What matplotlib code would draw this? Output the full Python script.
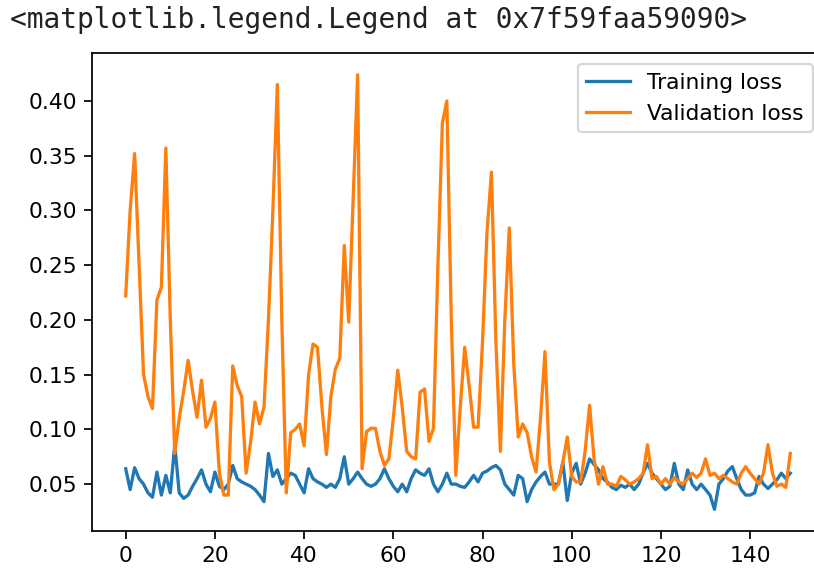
import numpy as np
import matplotlib
matplotlib.use("Agg")
import matplotlib.pyplot as plt

# Loss values per epoch
train_loss = [
    0.064, 0.045, 0.065, 0.055, 0.050, 0.042, 0.038, 0.061, 0.040, 0.058,
    0.042, 0.086, 0.042, 0.037, 0.040, 0.048, 0.055, 0.063, 0.050, 0.043,
    0.061, 0.048, 0.045, 0.050, 0.067, 0.055, 0.052, 0.050, 0.048, 0.045,
    0.040, 0.034, 0.078, 0.057, 0.063, 0.050, 0.055, 0.060, 0.058, 0.050,
    0.042, 0.064, 0.055, 0.052, 0.050, 0.047, 0.050, 0.047, 0.055, 0.075,
    0.050, 0.055, 0.061, 0.055, 0.050, 0.048, 0.050, 0.055, 0.064, 0.055,
    0.048, 0.043, 0.050, 0.043, 0.055, 0.063, 0.060, 0.058, 0.064, 0.050,
    0.043, 0.050, 0.060, 0.050, 0.050, 0.048, 0.047, 0.052, 0.058, 0.052,
    0.060, 0.062, 0.065, 0.067, 0.063, 0.050, 0.045, 0.040, 0.058, 0.055,
    0.034, 0.045, 0.052, 0.057, 0.061, 0.050, 0.050, 0.050, 0.070, 0.035,
    0.060, 0.069, 0.050, 0.060, 0.073, 0.068, 0.063, 0.055, 0.052, 0.047,
    0.045, 0.049, 0.047, 0.050, 0.045, 0.050, 0.060, 0.069, 0.060, 0.055,
    0.050, 0.045, 0.048, 0.069, 0.050, 0.045, 0.063, 0.050, 0.045, 0.050,
    0.045, 0.040, 0.027, 0.050, 0.055, 0.062, 0.066, 0.055, 0.045, 0.040,
    0.040, 0.042, 0.057, 0.050, 0.046, 0.050, 0.054, 0.060, 0.055, 0.060,
]

val_loss = [
    0.222, 0.300, 0.352, 0.250, 0.150, 0.130, 0.119, 0.218, 0.230, 0.357,
    0.200, 0.078, 0.110, 0.135, 0.163, 0.135, 0.111, 0.145, 0.102, 0.110,
    0.125, 0.060, 0.040, 0.040, 0.158, 0.140, 0.130, 0.060, 0.088, 0.125,
    0.105, 0.120, 0.200, 0.300, 0.415, 0.200, 0.042, 0.097, 0.100, 0.105,
    0.085, 0.150, 0.178, 0.175, 0.120, 0.077, 0.130, 0.155, 0.165, 0.268,
    0.198, 0.310, 0.424, 0.064, 0.098, 0.101, 0.101, 0.080, 0.067, 0.073,
    0.110, 0.154, 0.120, 0.080, 0.075, 0.073, 0.134, 0.137, 0.089, 0.101,
    0.250, 0.380, 0.400, 0.200, 0.058, 0.120, 0.175, 0.140, 0.102, 0.102,
    0.180, 0.280, 0.335, 0.180, 0.080, 0.200, 0.284, 0.160, 0.093, 0.105,
    0.097, 0.075, 0.061, 0.110, 0.171, 0.070, 0.045, 0.050, 0.070, 0.093,
    0.057, 0.052, 0.052, 0.080, 0.122, 0.073, 0.050, 0.066, 0.050, 0.050,
    0.048, 0.057, 0.054, 0.050, 0.052, 0.055, 0.060, 0.086, 0.055, 0.057,
    0.050, 0.055, 0.050, 0.056, 0.052, 0.050, 0.055, 0.060, 0.056, 0.060,
    0.073, 0.058, 0.060, 0.055, 0.058, 0.055, 0.052, 0.050, 0.060, 0.066,
    0.060, 0.055, 0.050, 0.060, 0.086, 0.060, 0.048, 0.050, 0.047, 0.078,
]

dpi = 157
fig = plt.figure(figsize=(814 / dpi, 571 / dpi), dpi=dpi)
# notebook output line above the plot
fig.text(10 / 814, 1 - 20 / 571, "<matplotlib.legend.Legend at 0x7f59faa59090>",
         family="DejaVu Sans Mono", fontsize=12.8, color="#222222", va="center", ha="left")

ax = fig.add_axes([0.1136, 0.070, 0.8981, 0.8372])
ax.plot(train_loss, label="Training loss")
ax.plot(val_loss, label="Validation loss")
ax.legend()
# the screenshot cuts the figure before the right edge of the axes
ax.spines["right"].set_visible(False)

fig.savefig("out.png", dpi=dpi)
